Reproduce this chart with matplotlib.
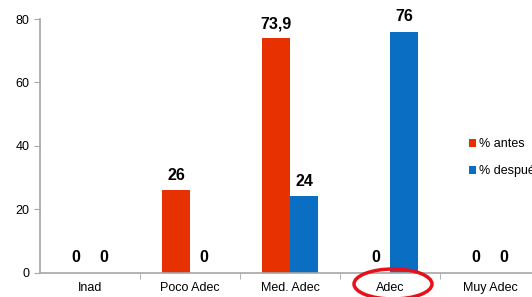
import matplotlib
matplotlib.use('Agg')
import matplotlib.pyplot as plt
from matplotlib.patches import Ellipse
import numpy as np

categories = ['Inad', 'Poco Adec', 'Med. Adec', 'Adec', 'Muy Adec']
antes = [0, 26, 73.9, 0, 0]
despues = [0, 0, 24, 76, 0]
labels_antes = ['0', '26', '73,9', '0', '0']
labels_despues = ['0', '0', '24', '76', '0']

RED = '#E83100'
BLUE = '#0A6FC2'
GRAY = '#A6A6A6'
FONT = ['Liberation Sans Narrow', 'Liberation Sans', 'DejaVu Sans']

fig = plt.figure(figsize=(5.32, 2.97), dpi=100)
ax = fig.add_axes([40 / 532, 1 - 272.5 / 297, 500 / 532, (272.5 - 19) / 297])

x = np.arange(len(categories))
w = 0.28
ax.bar(x - w / 2, antes, w, color=RED, label='% antes')
ax.bar(x + w / 2, despues, w, color=BLUE, label='% después')

for xi, v, t in zip(x, antes, labels_antes):
    ax.text(xi - w / 2, v + 2.3, t, ha='center', va='bottom', fontsize=11.5,
            fontweight='bold', family=FONT)
for xi, v, t in zip(x, despues, labels_despues):
    ax.text(xi + w / 2, v + 2.3, t, ha='center', va='bottom', fontsize=11.5,
            fontweight='bold', family=FONT)

ax.set_xlim(-0.5, len(categories) - 0.5)
ax.set_ylim(0, 80)
ax.set_yticks([0, 20, 40, 60, 80])
ax.set_xticks(x)
ax.set_xticklabels(categories, family=FONT, fontsize=9)
ax.set_xticks(x[:-1] + 0.5, minor=True)
ax.tick_params(axis='x', which='major', length=0, pad=7)
ax.tick_params(axis='x', which='minor', length=4, color=GRAY)
ax.tick_params(axis='y', length=4, color=GRAY, labelsize=9)
for lab in ax.get_yticklabels():
    lab.set_family(FONT)

for s in ['top', 'right']:
    ax.spines[s].set_visible(False)
for s in ['left', 'bottom']:
    ax.spines[s].set_color(GRAY)
    ax.spines[s].set_linewidth(1.2)

leg = ax.legend(loc='upper left', bbox_to_anchor=(0.835, 0.575), frameon=False,
                handlelength=0.6, handleheight=0.6, handletextpad=0.2,
                labelspacing=1.2, prop={'family': FONT, 'size': 9})

circle = Ellipse((393 / 532, 1 - 284 / 297), 78 / 532, 30 / 297,
                 transform=fig.transFigure, fill=False, edgecolor='#E8101A',
                 linewidth=2.5, clip_on=False)
fig.add_artist(circle)

fig.savefig('out.png', dpi=100)
